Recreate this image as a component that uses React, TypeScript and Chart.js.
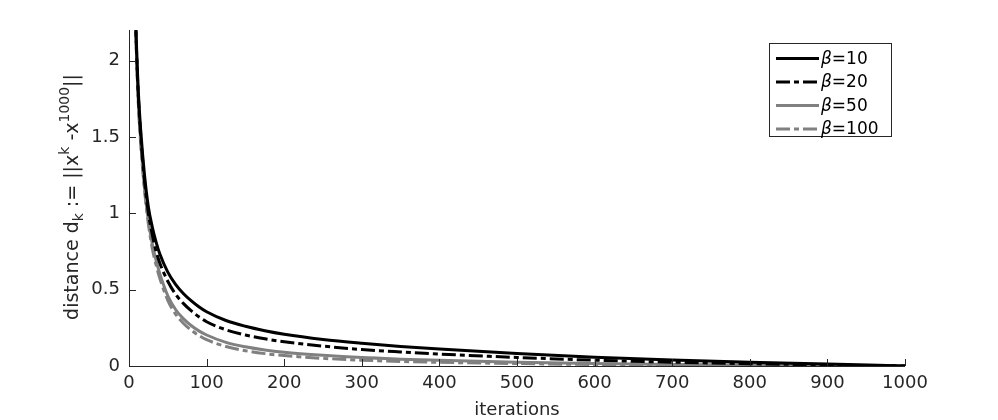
import React, { useEffect, useRef } from "react";
import { Chart, registerables } from "chart.js";

Chart.register(...registerables);

const iterations = [5, 8, 10, 12, 15, 20, 25, 30, 35, 40, 50, 60, 70, 80, 90, 100, 125, 150, 175, 200, 250, 300, 350, 400, 500, 600, 700, 800, 900, 1000];
const beta10 = [4.0, 2.45, 2.05, 1.8, 1.55, 1.25, 1.04, 0.91, 0.81, 0.73, 0.615, 0.535, 0.475, 0.428, 0.388, 0.355, 0.298, 0.26, 0.231, 0.208, 0.174, 0.149, 0.128, 0.111, 0.082, 0.057, 0.039, 0.025, 0.013, 0];
const beta20 = [3.9, 2.4, 2.02, 1.77, 1.52, 1.21, 1.0, 0.86, 0.75, 0.67, 0.555, 0.47, 0.41, 0.362, 0.322, 0.29, 0.237, 0.203, 0.178, 0.159, 0.13, 0.108, 0.092, 0.078, 0.056, 0.038, 0.025, 0.015, 0.007, 0];
const beta50 = [3.85, 2.4, 2.0, 1.74, 1.48, 1.17, 0.95, 0.8, 0.69, 0.6, 0.46, 0.37, 0.31, 0.265, 0.23, 0.203, 0.155, 0.126, 0.105, 0.09, 0.07, 0.055, 0.045, 0.037, 0.025, 0.016, 0.01, 0.006, 0.003, 0];
const beta100 = [3.8, 2.38, 1.98, 1.72, 1.46, 1.15, 0.93, 0.77, 0.66, 0.57, 0.43, 0.34, 0.28, 0.235, 0.2, 0.172, 0.128, 0.1, 0.081, 0.068, 0.05, 0.038, 0.03, 0.024, 0.016, 0.01, 0.006, 0.004, 0.002, 0];

const betaLabels = ["10", "20", "50", "100"];
const xTicks = [0, 100, 200, 300, 400, 500, 600, 700, 800, 900, 1000];
const yTicks = [0, 0.5, 1, 1.5, 2];

const BLACK = "#000000";
const GRAY = "#808080";
const AXIS = "#262626";
const FONT = "DejaVu Sans";
const DASHDOT = [14, 4, 5, 4];

const seriesStyles = [
  { color: BLACK, dash: [] as number[] },
  { color: BLACK, dash: DASHDOT },
  { color: GRAY, dash: [] as number[] },
  { color: GRAY, dash: DASHDOT },
];

const decorPlugin = {
  id: "decor",
  afterDraw(chart: any) {
    const { ctx, chartArea, scales } = chart;
    const xs = scales.x;
    const ys = scales.y;
    ctx.save();
    ctx.strokeStyle = AXIS;
    ctx.lineWidth = 1;
    ctx.setLineDash([]);
    ctx.beginPath();
    ctx.moveTo(chartArea.left + 0.5, chartArea.top);
    ctx.lineTo(chartArea.left + 0.5, chartArea.bottom + 0.5);
    ctx.lineTo(chartArea.right, chartArea.bottom + 0.5);
    ctx.stroke();
    ctx.beginPath();
    for (const v of xTicks) {
      const px = Math.round(xs.getPixelForValue(v)) + 0.5;
      ctx.moveTo(px, chartArea.bottom);
      ctx.lineTo(px, chartArea.bottom - 7);
    }
    for (const v of yTicks) {
      const py = Math.round(ys.getPixelForValue(v)) + 0.5;
      ctx.moveTo(chartArea.left, py);
      ctx.lineTo(chartArea.left + 7, py);
    }
    ctx.stroke();

    ctx.fillStyle = AXIS;
    ctx.font = `18px ${FONT}`;
    ctx.textAlign = "center";
    ctx.textBaseline = "alphabetic";
    ctx.fillText("iterations", (chartArea.left + chartArea.right) / 2, 415);

    const pieces = [
      { t: "distance d", size: 19, dy: 0 },
      { t: "k", size: 14, dy: 5 },
      { t: " := ||x", size: 19, dy: 0 },
      { t: "k", size: 14, dy: -9 },
      { t: " -x", size: 19, dy: 0 },
      { t: "1000", size: 14, dy: -9 },
      { t: "||", size: 19, dy: 0 },
    ];
    let total = 0;
    const widths: number[] = [];
    for (const p of pieces) {
      ctx.font = `${p.size}px ${FONT}`;
      const w = ctx.measureText(p.t).width;
      widths.push(w);
      total += w;
    }
    ctx.translate(78, 197);
    ctx.rotate(-Math.PI / 2);
    ctx.textAlign = "left";
    let cx = -total / 2;
    pieces.forEach((p, i) => {
      ctx.font = `${p.size}px ${FONT}`;
      ctx.fillText(p.t, cx, p.dy);
      cx += widths[i];
    });
    ctx.restore();

    ctx.save();
    const bx = 769.5, by = 43.5, bw = 122, bh = 93;
    ctx.fillStyle = "#ffffff";
    ctx.fillRect(bx, by, bw, bh);
    ctx.strokeStyle = AXIS;
    ctx.lineWidth = 1;
    ctx.strokeRect(bx, by, bw, bh);
    const rowsY = [58.5, 82, 105.5, 129];
    betaLabels.forEach((lab, i) => {
      const st = seriesStyles[i];
      ctx.strokeStyle = st.color;
      ctx.lineWidth = 3;
      ctx.setLineDash(st.dash);
      ctx.beginPath();
      ctx.moveTo(776, rowsY[i]);
      ctx.lineTo(819, rowsY[i]);
      ctx.stroke();
      ctx.setLineDash([]);
      ctx.fillStyle = "#000000";
      ctx.textBaseline = "middle";
      ctx.textAlign = "left";
      ctx.font = `italic 17px ${FONT}`;
      ctx.fillText("β", 821, rowsY[i] + 1);
      const bwid = ctx.measureText("β").width;
      ctx.font = `17px ${FONT}`;
      ctx.fillText("=" + lab, 821 + bwid, rowsY[i] + 1);
    });
    ctx.restore();
  },
};

export default function App() {
  const ref = useRef<HTMLCanvasElement | null>(null);
  useEffect(() => {
    if (!ref.current) return;
    const series = [beta10, beta20, beta50, beta100];
    const chart = new Chart(ref.current, {
      type: "line",
      data: {
        datasets: series.map((vals, i) => ({
          label: "β=" + betaLabels[i],
          data: iterations.map((x, j) => ({ x, y: vals[j] })),
          borderColor: seriesStyles[i].color,
          borderDash: seriesStyles[i].dash,
          borderWidth: 3,
          pointRadius: 0,
          fill: false,
          cubicInterpolationMode: "monotone" as const,
        })),
      },
      options: {
        responsive: false,
        animation: false,
        layout: { padding: { left: 0, top: 30, right: 93, bottom: 0 } },
        plugins: { legend: { display: false }, tooltip: { enabled: false } },
        scales: {
          x: {
            type: "linear",
            min: 0,
            max: 1000,
            grid: { display: false, drawTicks: false },
            border: { display: false },
            afterBuildTicks: (s: any) => {
              s.ticks = xTicks.map((v) => ({ value: v }));
            },
            afterFit: (s: any) => {
              s.height = 54;
              s.paddingLeft = 0;
              s.paddingRight = 0;
            },
            ticks: {
              color: AXIS,
              font: { family: FONT, size: 18 },
              padding: 7,
              maxRotation: 0,
              autoSkip: false,
              callback: (v: any) => String(v),
            },
          },
          y: {
            type: "linear",
            min: 0,
            max: 2.2,
            grid: { display: false, drawTicks: false },
            border: { display: false },
            afterBuildTicks: (s: any) => {
              s.ticks = yTicks.map((v) => ({ value: v }));
            },
            afterFit: (s: any) => {
              s.width = 129;
              s.paddingTop = 0;
              s.paddingBottom = 0;
            },
            ticks: {
              color: AXIS,
              font: { family: FONT, size: 18 },
              padding: 9,
              autoSkip: false,
              callback: (v: any) => String(v),
            },
          },
        },
      },
      plugins: [decorPlugin],
    });
    return () => chart.destroy();
  }, []);
  return (
    <div style={{ position: "fixed", left: 0, top: 0, width: 998, height: 420, background: "#fff" }}>
      <canvas ref={ref} width={998} height={420} style={{ display: "block" }} />
    </div>
  );
}
